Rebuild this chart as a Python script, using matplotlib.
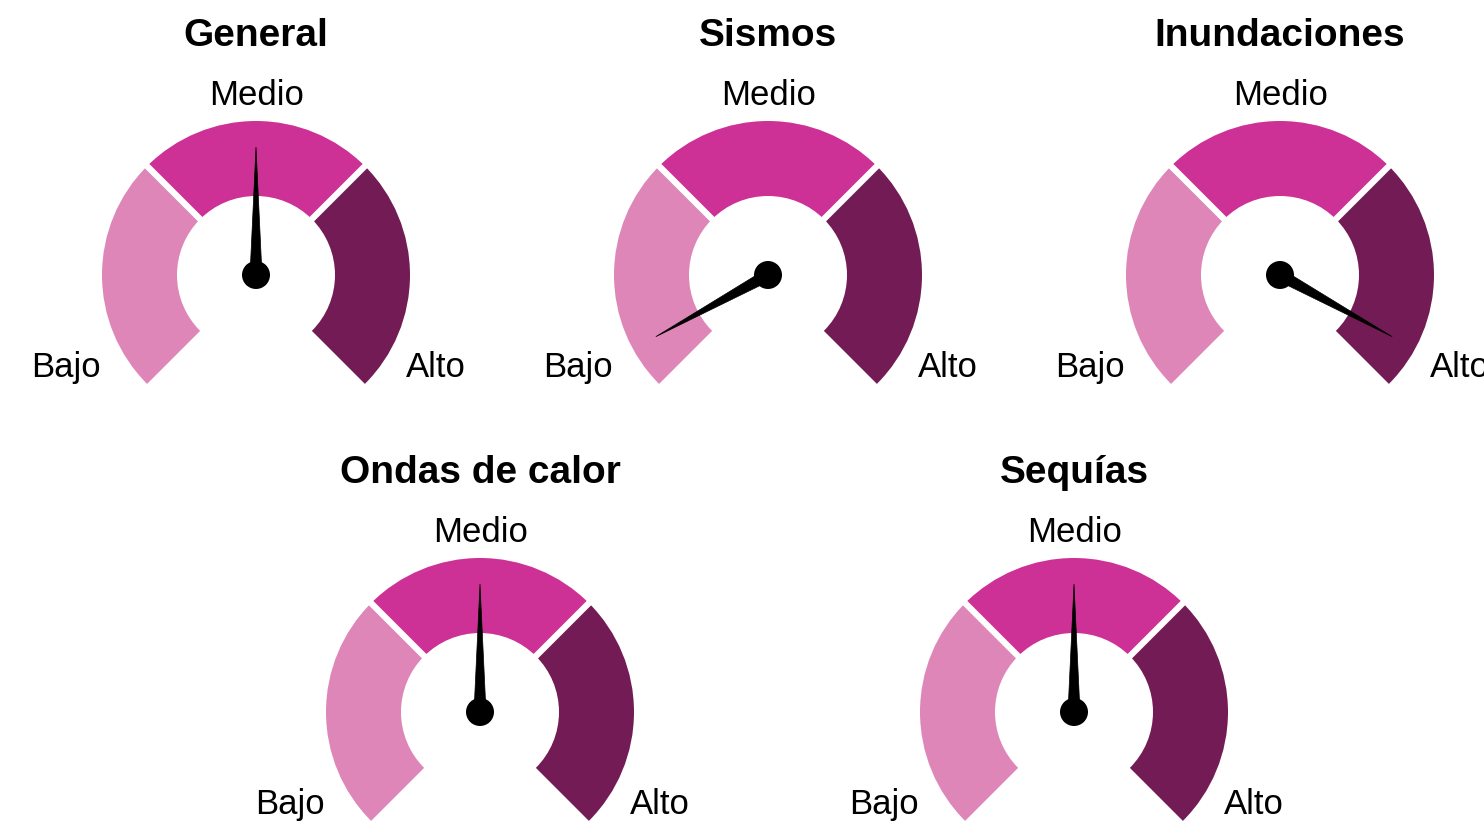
import numpy as np
import matplotlib
matplotlib.use("Agg")
import matplotlib.pyplot as plt
from matplotlib.patches import Wedge, Circle, Polygon

plt.rcParams["font.family"] = ["Liberation Sans", "DejaVu Sans"]

# data
titles = ["General", "Sismos", "Inundaciones", "Ondas de calor", "Sequías"]
values = [50, 6, 94, 50, 50]          # position of needle on 0-100 scale
levels = ["Bajo", "Medio", "Alto"]
level_colors = ["#de86b8", "#cd3195", "#731b55"]

# layout (pixels, y measured upward)
W, H = 1484, 821
centers = [(256, 546), (768, 546), (1280, 546), (480, 109), (1074, 109)]
R_OUT, R_IN = 154, 79
ANG_START, ANG_END = 225, -45


def val_to_angle(v):
    return ANG_START - (ANG_START - ANG_END) * v / 100.0


def draw_gauge(ax, cx, cy, title, value):
    span = (ANG_START - ANG_END) / len(levels)
    for i, col in enumerate(level_colors):
        t2 = ANG_START - i * span
        t1 = t2 - span
        ax.add_patch(Wedge((cx, cy), R_OUT, t1, t2, width=R_OUT - R_IN,
                           facecolor=col, edgecolor="none"))
    # white gaps between segments
    for i in range(1, len(levels)):
        a = np.radians(ANG_START - i * span)
        ax.plot([cx + (R_IN - 5) * np.cos(a), cx + (R_OUT + 5) * np.cos(a)],
                [cy + (R_IN - 5) * np.sin(a), cy + (R_OUT + 5) * np.sin(a)],
                color="white", lw=4.5, solid_capstyle="butt")

    # needle
    a = np.radians(val_to_angle(value))
    L, hw = 128, 6
    tip = (cx + L * np.cos(a), cy + L * np.sin(a))
    b1 = (cx - hw * np.sin(a), cy + hw * np.cos(a))
    b2 = (cx + hw * np.sin(a), cy - hw * np.cos(a))
    ax.add_patch(Polygon([b1, tip, b2], closed=True, facecolor="black",
                         edgecolor="black", lw=0.5))
    ax.add_patch(Circle((cx, cy), 14, facecolor="black", edgecolor="none"))

    # labels
    ax.text(cx, cy + 229, title, ha="center", va="baseline",
            fontsize=28, fontweight="bold", color="black")
    ax.text(cx + 1, cy + 170, levels[1], ha="center", va="baseline",
            fontsize=25, color="black")
    ax.text(cx - 190, cy - 102, levels[0], ha="center", va="baseline",
            fontsize=25, color="black")
    ax.text(cx + 180, cy - 102, levels[2], ha="center", va="baseline",
            fontsize=25, color="black")


fig = plt.figure(figsize=(W / 100, H / 100), dpi=100)
ax = fig.add_axes([0, 0, 1, 1])
ax.set_xlim(0, W)
ax.set_ylim(0, H)
ax.axis("off")

for (cx, cy), t, v in zip(centers, titles, values):
    draw_gauge(ax, cx, cy, t, v)

fig.savefig("out.png", dpi=100, facecolor="white")
